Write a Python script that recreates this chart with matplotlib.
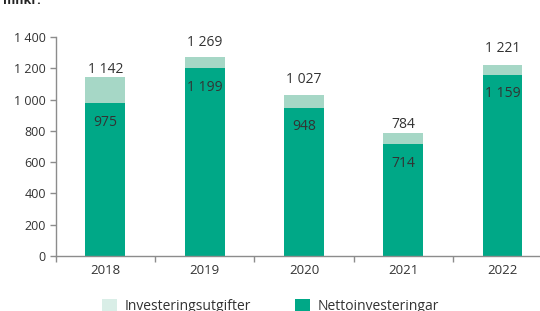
import matplotlib
matplotlib.use("Agg")
import matplotlib.pyplot as plt
from matplotlib.patches import Patch
from matplotlib.ticker import FixedLocator

plt.rcParams['font.family'] = ['Open Sans', 'DejaVu Sans']

years = ['2018', '2019', '2020', '2021', '2022']
total = [1142, 1269, 1027, 784, 1221]
netto = [975, 1199, 948, 714, 1159]
yticks = [0, 200, 400, 600, 800, 1000, 1200, 1400]
# label gap above bar (points), as placed in the reference
total_gap = [3.0, 8.3, 8.6, 3.6, 9.4]

dark = '#00a887'
light = '#a6d7c6'
light_leg = '#d9eee7'
txt = '#333333'
axc = '#8c8c8c'

fig = plt.figure(figsize=(5.4, 3.11), dpi=100)
ax = fig.add_axes([55.7/540, 1-256/311, (552.2-55.7)/540, 219/311])

x = list(range(len(years)))
extra = [t - n for t, n in zip(total, netto)]
ax.bar(x, netto, width=0.4, color=dark, edgecolor='none')
ax.bar(x, extra, bottom=netto, width=0.4, color=light, edgecolor='none')

def fmt(v):
    return f"{v:,}".replace(",", " ")

for i in x:
    ax.annotate(fmt(total[i]), (i, total[i]), xytext=(0, total_gap[i]), textcoords='offset points',
                ha='center', va='baseline', fontsize=10, color=txt)
    ax.annotate(fmt(netto[i]), (i, netto[i]), xytext=(0, -16.2), textcoords='offset points',
                ha='center', va='baseline', fontsize=10, color=txt)

ax.set_xlim(-0.5, 4.5)
ax.set_ylim(0, 1400)
ax.set_yticks(yticks)
ax.set_yticklabels([fmt(v) for v in yticks])
ax.set_xticks(x)
ax.set_xticklabels(years)
ax.xaxis.set_minor_locator(FixedLocator([-0.5, 0.5, 1.5, 2.5, 3.5, 4.5]))
ax.tick_params(axis='x', which='major', length=0, labelsize=9.5, labelcolor=txt, pad=6)
ax.tick_params(axis='x', which='minor', length=4, color=axc, width=1)
ax.tick_params(axis='y', length=4, color=axc, width=1, labelsize=9, labelcolor=txt, pad=3)

for s in ['top', 'right']:
    ax.spines[s].set_visible(False)
for s in ['left', 'bottom']:
    ax.spines[s].set_color(axc)
    ax.spines[s].set_linewidth(1)

fig.text(0.005, 1.0, 'mnkr.', fontweight='bold', fontsize=9, va='center', ha='left', color='#222222')

handles = [Patch(facecolor=light_leg, edgecolor='none', label='Investeringsutgifter'),
           Patch(facecolor=dark, edgecolor='none', label='Nettoinvesteringar')]
fig.legend(handles=handles, loc='upper left', bbox_to_anchor=(102/540, 1-299/311),
           ncol=2, frameon=False, fontsize=10, handlelength=1.1, handleheight=1.1,
           handletextpad=0.5, columnspacing=3.2, borderpad=0, borderaxespad=0,
           labelcolor=txt)

fig.savefig('out.png', dpi=100)
